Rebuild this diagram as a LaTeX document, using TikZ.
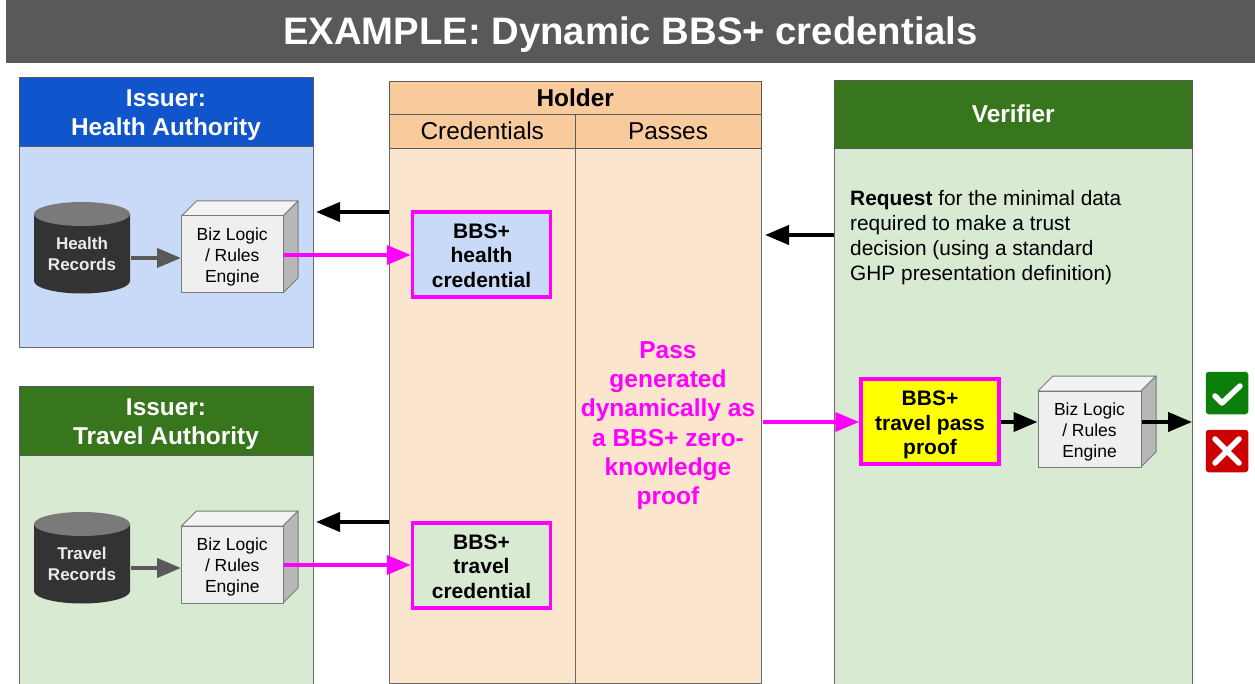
\documentclass[tikz,border=0pt]{standalone}
\usepackage{fontspec}
\setmainfont{Liberation Sans}
\usetikzlibrary{arrows.meta,calc}
\definecolor{bluehead}{HTML}{1155CC}
\definecolor{bluebody}{HTML}{C9DAF8}
\definecolor{greenhead}{HTML}{38761D}
\definecolor{greenbody}{HTML}{D9EAD3}
\definecolor{orangehead}{HTML}{F9CB9C}
\definecolor{orangebody}{HTML}{FCE5CD}
\definecolor{edgegray}{HTML}{595959}
\definecolor{titlegray}{HTML}{595959}
\definecolor{magentaline}{HTML}{FF00FF}
\definecolor{cubefront}{HTML}{EFEFEF}
\definecolor{cubetop}{HTML}{F3F3F3}
\definecolor{cubeside}{HTML}{B7B7B7}
\definecolor{cylbody}{HTML}{333333}
\definecolor{cyltop}{HTML}{7A7A7A}
\definecolor{okgreen}{HTML}{0B7F0B}
\definecolor{nored}{HTML}{CC0000}
\definecolor{proofyellow}{HTML}{FFFF00}
\newcommand{\fs}[2]{\fontsize{#1}{#2}\selectfont}
\newcommand{\lead}[1]{\rule{0pt}{#1pt}}
\newcommand{\panel}[7]{%
  \node[#7, minimum width=#4pt-#2pt, minimum height=#5pt-#3pt] (#1) at ({(#2+#4)/2},{(#3+#5)/2}) {#6};}
\newcommand{\cube}[5]{%
  \filldraw[cubeedge, fill=cubetop] (#2,#3) -- ++(15,-15) -- (#4+15,#3-15) -- (#4,#3) -- cycle;
  \filldraw[cubeedge, fill=cubeside] (#4,#3) -- (#4+15,#3-15) -- (#4+15,#5-15) -- (#4,#5) -- cycle;
  \node[cubebox, minimum width=#4pt-#2pt, minimum height=#5pt-#3pt] (#1) at ({(#2+#4)/2},{(#3+#5)/2}) {\lead{18}Biz Logic\\/ Rules\\Engine};}
\newcommand{\cyl}[3]{%
  \fill[cylbody] (34,#2+12) -- (34,#2+79) arc[start angle=180,end angle=0,x radius=48,y radius=12.5] -- (130,#2+12) -- cycle;
  \fill[cyltop] (82,#2+12) ellipse[x radius=48,y radius=12];
  \node[cyltext] (#1) at (82,#2+52) {#3};}
\tikzset{
  x=1pt,y=-1pt,
  headbox/.style={draw=edgegray,line width=0.9pt,inner sep=0pt,align=center,text=white,font=\bfseries\fs{24.4}{29}},
  bodybox/.style={draw=edgegray!90,line width=0.9pt,inner sep=0pt},
  cubeedge/.style={draw=edgegray!80,line width=1pt,line join=round},
  cubebox/.style={draw=edgegray!80,fill=cubefront,line width=1pt,inner sep=0pt,align=center,font=\fs{17.5}{20.9}},
  cyltext/.style={text=white!92!black,font=\bfseries\fs{17}{21},align=center,inner sep=0pt},
  credbox/.style={draw=magentaline,line width=3.5pt,inner sep=0pt,align=center,font=\bfseries\fs{21}{24.6},minimum width=138pt,minimum height=85pt},
  holdhead/.style={draw=edgegray,line width=0.9pt,fill=orangehead,inner sep=0pt,font=\fs{24.4}{28}},
  blackarrow/.style={-{Triangle[length=24pt,width=19pt]},line width=4pt,black},
  magarrow/.style={-{Triangle[length=24pt,width=19pt]},line width=4pt,magentaline},
  grayarrow/.style={-{Triangle[length=24pt,width=19pt]},line width=4pt,edgegray},
}
\begin{document}
\begin{tikzpicture}
\useasboundingbox (0,0) rectangle (1255,684);
% title
\node[fill=titlegray,inner sep=0pt,minimum width=1249pt,minimum height=63pt,text=white,font=\bfseries\fs{38.3}{42}] (title) at (630.5,31.5) {\lead{34}EXAMPLE: Dynamic BBS+ credentials};
% health issuer
\panel{hb}{19}{146}{313}{347}{}{bodybox,fill=bluebody}
\panel{hh}{19}{77}{313}{146}{\lead{24}Issuer:\\Health Authority}{headbox,fill=bluehead}
% travel issuer
\panel{tb}{19}{455}{313}{684}{}{bodybox,fill=greenbody}
\panel{th}{19}{386}{313}{455}{\lead{24}Issuer:\\Travel Authority}{headbox,fill=greenhead}
% holder
\panel{cb}{389.5}{148}{575}{683}{}{bodybox,fill=orangebody}
\panel{pb}{575}{148}{761}{683}{}{bodybox,fill=orangebody}
\panel{holder}{389.5}{81}{761}{114}{\bfseries Holder}{holdhead}
\panel{creds}{389.5}{114}{575}{148}{Credentials}{holdhead}
\panel{passes}{575}{114}{761}{148}{Passes}{holdhead}
% verifier
\panel{vb}{834.5}{148}{1192}{684}{}{bodybox,fill=greenbody}
\panel{vh}{834.5}{80}{1192}{148}{Verifier}{headbox,fill=greenhead}
\node[anchor=north west,inner sep=0pt,align=left,font=\fs{20.85}{25.2}] (req) at (850,190) {\textbf{Request} for the minimal data\\required to make a trust\\decision (using a standard\\GHP presentation definition)};
% data stores and engines
\cyl{hr}{202}{Health\\Records}
\cube{he}{181.5}{216}{283}{293}
\cyl{tr}{512}{Travel\\Records}
\cube{te}{181.5}{526}{283}{603}
\cube{ve}{1038}{391}{1141}{467}
% credentials
\node[credbox,fill=bluebody] (hc) at (481.5,254.5) {\lead{17}BBS+\\health\\credential};
\node[credbox,fill=greenbody] (tc) at (481.5,565.5) {\lead{17}BBS+\\travel\\credential};
\node[credbox,fill=proofyellow] (pf) at (930,421.5) {\lead{22}BBS+\\travel pass\\proof};
\node[text=magentaline,align=center,inner sep=0pt,font=\bfseries\fs{24.5}{29.2}] (pt) at (668,422) {\lead{24}Pass\\generated\\dynamically as\\a BBS+ zero-\\knowledge\\proof};
% decisions
\node[fill=okgreen,rounded corners=3pt,minimum size=42.5pt,inner sep=0pt] (ok) at (1227,393) {};
\draw[white,line width=5.5pt,line cap=round,line join=round] ($(ok)+(-12,3)$) -- ($(ok)+(-5,10)$) -- ($(ok)+(13,-7)$);
\node[fill=nored,rounded corners=3pt,minimum size=42.5pt,inner sep=0pt] (no) at (1227,451) {};
\draw[white,line width=5.5pt,line cap=round] ($(no)+(-12,-12)$) -- ($(no)+(12,12)$) ($(no)+(-12,12)$) -- ($(no)+(12,-12)$);
% free ends
\coordinate (hfrom) at (389,212);
\coordinate (hto) at (316,212);
\coordinate (tfrom) at (389,522);
\coordinate (tto) at (316,522);
\coordinate (vfrom) at (834,235);
\coordinate (vto) at (765,235);
\coordinate (pfrom) at (763,422);
\coordinate (vend) at (1192,422);
% connectors
\draw[blackarrow] (hfrom) -- (hto);
\draw[blackarrow] (tfrom) -- (tto);
\draw[blackarrow] (vfrom) -- (vto);
\draw[grayarrow] (131,258) -- (he.west |- 0,258);
\draw[grayarrow] (131,568) -- (te.west |- 0,568);
\draw[magarrow] (he.east |- 0,255) -- (hc.west |- 0,255);
\draw[magarrow] (te.east |- 0,565) -- (tc.west |- 0,565);
\draw[magarrow] (pfrom) -- (pf.west |- pfrom);
\draw[blackarrow] (pf.east |- pfrom) -- (ve.west |- pfrom);
\draw[blackarrow] (ve.east |- pfrom) -- (vend);
\end{tikzpicture}
\end{document}
